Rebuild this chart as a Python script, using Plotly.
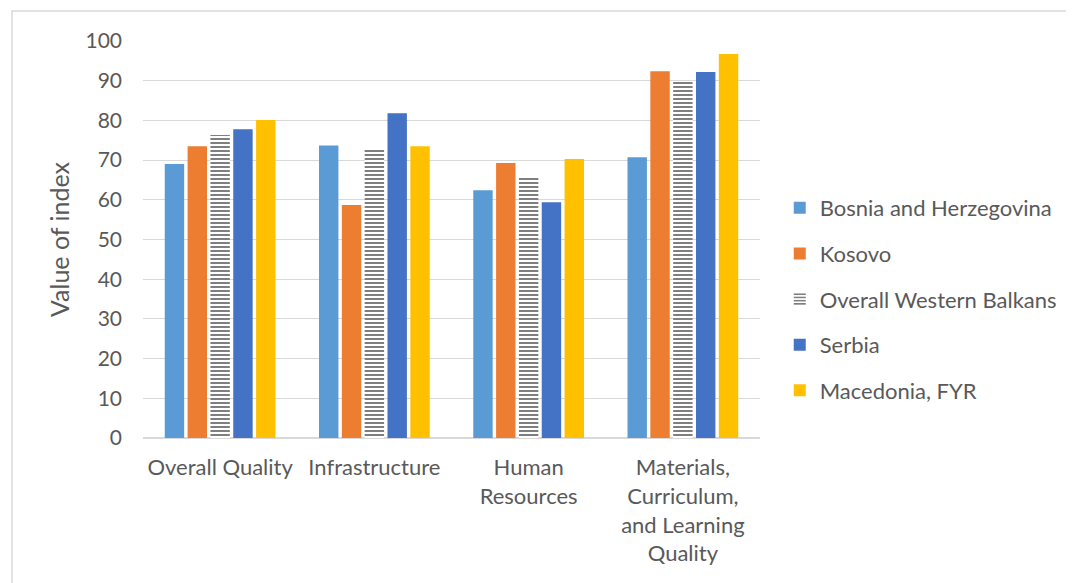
import plotly.graph_objects as go

categories = ["Overall Quality", "Infrastructure", "Human<br>Resources",
              "Materials,<br>Curriculum,<br>and Learning<br>Quality"]
bosnia = [69.0, 73.7, 62.4, 70.7]
kosovo = [73.5, 58.7, 69.3, 92.4]
western_balkans = [76.3, 72.6, 65.6, 89.8]
serbia = [77.8, 81.8, 59.4, 92.2]
macedonia = [80.1, 73.5, 70.3, 96.7]
y_ticks = list(range(0, 101, 10))

series = [
    ("Bosnia and Herzegovina", bosnia, "#5b9bd5", None),
    ("Kosovo", kosovo, "#ed7d31", None),
    ("Overall Western Balkans", western_balkans, "#ffffff", "-"),
    ("Serbia", serbia, "#4472c4", None),
    ("Macedonia, FYR", macedonia, "#ffc000", None),
]

fig = go.Figure()
for i, (name, vals, color, pat) in enumerate(series):
    if pat:
        marker = dict(color="#ffffff",
                      pattern=dict(shape="-", fgcolor="#7f7f7f", bgcolor="#ffffff",
                                   size=4, solidity=0.5, fillmode="replace"),
                      line=dict(width=0))
    else:
        marker = dict(color=color, line=dict(width=0))
    fig.add_trace(go.Bar(x=categories, y=vals, name=name, marker=marker,
                         legendgroup=f"g{i}"))

L, T, PW, PH = 135, 33, 617, 397
W, H = 1066, 575
fig.update_layout(
    width=W, height=H,
    paper_bgcolor="white", plot_bgcolor="white",
    margin=dict(l=L, r=W - L - PW, t=T, b=H - T - PH, autoexpand=False),
    barmode="group", bargap=0.26, bargroupgap=0.15,
    font=dict(family="Lato, Carlito, sans-serif", size=21, color="#595959"),
    showlegend=True,
    legend=dict(x=1.032, xanchor="left", y=0.35, yanchor="middle",
                font=dict(size=22, color="#595959"), tracegroupgap=14,
                bgcolor="rgba(0,0,0,0)"),
    xaxis=dict(showgrid=False, ticks="", showline=True, linecolor="#d9d9d9",
               linewidth=1, ticklabelstandoff=10,
               tickfont=dict(size=22, color="#595959")),
    yaxis=dict(range=[0, 100], tickvals=y_ticks, showgrid=True, gridcolor="#d9d9d9",
               gridwidth=1, zeroline=True, zerolinecolor="#d9d9d9", ticks="",
               ticklabelstandoff=20,
               title=dict(text="Value of index", font=dict(size=25, color="#595959"),
                          standoff=8),
               tickfont=dict(size=21, color="#595959")),
    shapes=[dict(type="rect", xref="paper", yref="paper",
                 x0=(4 - L) / PW, x1=(1070 - L) / PW,
                 y0=-(H - T - PH + 5) / PH, y1=1 + (T - 3) / PH,
                 line=dict(color="#d9d9d9", width=1.5), fillcolor="rgba(0,0,0,0)",
                 layer="below")],
)

fig.write_html("out.html")
